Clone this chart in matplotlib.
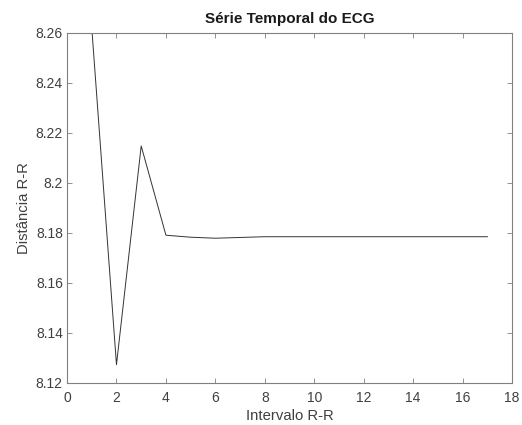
import matplotlib
matplotlib.use("Agg")
import matplotlib.pyplot as plt
from matplotlib.ticker import FuncFormatter

# intervalos R-R e distancias
intervalo = list(range(1, 18))
distancia = [8.262, 8.1272, 8.2147, 8.1790, 8.1782, 8.1778, 8.1781, 8.1784,
             8.1784, 8.1784, 8.1784, 8.1784, 8.1784, 8.1784, 8.1784, 8.1784, 8.1784]

plt.rcParams['font.family'] = ['Liberation Sans', 'DejaVu Sans']

fig = plt.figure(figsize=(5.22, 4.25), dpi=100)
ax = fig.add_axes([0.1284, 0.0995, 0.8526, 0.8235])

ax.plot(intervalo, distancia, color='#333333', linewidth=0.7)

ax.set_xlim(0, 18)
ax.set_ylim(8.12, 8.26)
ax.set_xticks(range(0, 19, 2))
ax.set_yticks([8.12, 8.14, 8.16, 8.18, 8.2, 8.22, 8.24, 8.26])
ax.yaxis.set_major_formatter(FuncFormatter(lambda v, p: '%g' % round(v, 2)))

axcol = '#404040'
for s in ax.spines.values():
    s.set_color('#808080')
    s.set_linewidth(0.8)
ax.tick_params(direction='in', top=True, right=True, length=3.5, width=0.6,
               colors='#808080', labelcolor=axcol, labelsize=10, pad=3)
ax.tick_params(axis='x', pad=6)

ax.set_title('Série Temporal do ECG', fontsize=11, fontweight='bold', color='#1a1a1a', pad=7)
ax.set_xlabel('Intervalo R-R', fontsize=10.7, color=axcol, labelpad=3)
ax.set_ylabel('Distância R-R', fontsize=10.7, color=axcol, labelpad=3)

fig.savefig('out.png', dpi=100)
